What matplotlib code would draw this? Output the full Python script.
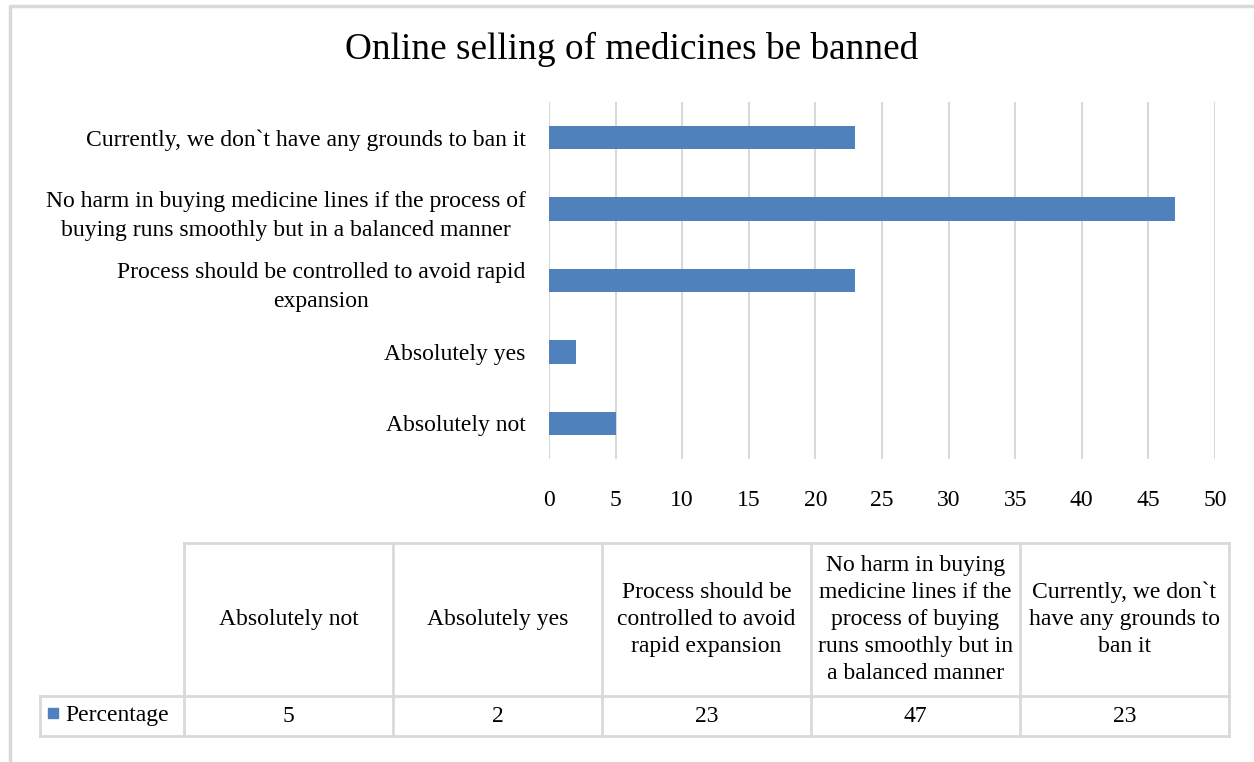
import matplotlib.pyplot as plt
from matplotlib.patches import Rectangle

plt.rcParams['font.family'] = ['Liberation Serif', 'DejaVu Serif']

title = 'Online selling of medicines be banned'
categories = ['Absolutely not', 'Absolutely yes',
              'Process should be controlled to avoid rapid\nexpansion',
              'No harm in buying medicine lines if the process of\nbuying runs smoothly but in a balanced manner',
              'Currently, we don`t have any grounds to ban it']
table_headers = ['Absolutely not', 'Absolutely yes',
                 'Process should be\ncontrolled to avoid\nrapid expansion',
                 'No harm in buying\nmedicine lines if the\nprocess of buying\nruns smoothly but in\na balanced manner',
                 'Currently, we don`t\nhave any grounds to\nban it']
series_name = 'Percentage'
values = [5, 2, 23, 47, 23]
xticks = [0, 5, 10, 15, 20, 25, 30, 35, 40, 45, 50]

W, H = 1254, 762
blue = '#4F81BD'
grid = '#D9D9D9'
fs = 17

fig = plt.figure(figsize=(W / 100, H / 100), dpi=100)

# bar chart area
x0, x1, y0, y1 = 549, 1215, 102, 459
ax = fig.add_axes([x0 / W, 1 - y1 / H, (x1 - x0) / W, (y1 - y0) / H])
pos = range(len(values))
ax.barh(pos, values, height=0.33, color=blue, zorder=3)
ax.set_xlim(0, 50)
ax.set_ylim(-0.5, len(values) - 0.5)
ax.set_xticks(xticks)
ax.set_xticklabels([str(t) for t in xticks], fontsize=fs)
ax.set_yticks(list(pos))
ax.set_yticklabels(categories, fontsize=fs, multialignment='center',
                   linespacing=1.5)
ax.tick_params(axis='x', length=0, pad=22)
ax.tick_params(axis='y', length=0, pad=17)
ax.xaxis.grid(True, color=grid, linewidth=1.5, zorder=0)
for s in ax.spines.values():
    s.set_visible(False)

# overlay in pixel coordinates for title, table and frame
ov = fig.add_axes([0, 0, 1, 1], zorder=-1)
ov.set_xlim(0, W)
ov.set_ylim(H, 0)
ov.axis('off')

ov.plot([10, 10, W], [H, 6, 6], color=grid, linewidth=2.5)
ov.text(632, 49, title, fontsize=26.8, ha='center', va='center')

cols = [40, 184, 393, 602, 811, 1020, 1229]
ty0, ty1, ty2 = 543, 696, 736
lw = 2
# header row (no left header cell)
ov.plot([cols[1], cols[-1]], [ty0, ty0], color=grid, lw=lw)
ov.plot([cols[0], cols[-1]], [ty1, ty1], color=grid, lw=lw)
ov.plot([cols[0], cols[-1]], [ty2, ty2], color=grid, lw=lw)
ov.plot([cols[0], cols[0]], [ty1, ty2], color=grid, lw=lw)
for c in cols[1:]:
    ov.plot([c, c], [ty0, ty2], color=grid, lw=lw)

for i, h in enumerate(table_headers):
    cx = (cols[i + 1] + cols[i + 2]) / 2
    ov.text(cx, (ty0 + ty1) / 2, h, fontsize=fs, ha='center', va='center',
            multialignment='center', linespacing=1.37)
    ov.text(cx, (ty1 + ty2) / 2, str(values[i]), fontsize=fs,
            ha='center', va='center')

ov.add_patch(Rectangle((48, 708), 10, 10, color=blue))
ov.text(65, (ty1 + ty2) / 2, series_name, fontsize=fs, ha='left', va='center')

fig.savefig('out.png', dpi=100)
